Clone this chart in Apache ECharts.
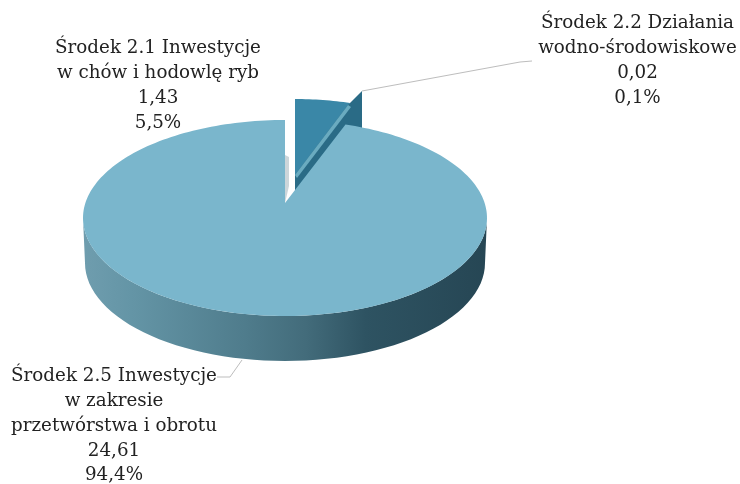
<!DOCTYPE html>
<html><head><meta charset="utf-8">
<script src="https://cdn.jsdelivr.net/npm/echarts@6/dist/echarts.min.js"></script>
<style>html,body{margin:0;padding:0;background:#fff}#c{width:740px;height:484px}</style>
</head><body><div id="c"></div>
<script>
const names = ['Środek 2.1 Inwestycje\nw chów i hodowlę ryb', 'Środek 2.2 Działania\nwodno-środowiskowe', 'Środek 2.5 Inwestycje\nw zakresie\nprzetwórstwa i obrotu'];
const values = [1.43, 0.02, 24.61];
const percents = [5.5, 0.1, 94.4];

const total = values.reduce((a, b) => a + b, 0);
const fmt = (v, d) => v.toFixed(d).replace('.', ',');
const FONT = '18.3px "DejaVu Serif", serif';
const LABELS = [{x:158,y:36},{x:637.5,y:11},{x:114,y:364}];
const MAIN = {cx:285, cy:218, rx:202, ry:98, apexX:285, apexY:203, depth:45, perspective:.87};

function startAngle(i){ let s=0; for(let k=0;k<i;k++) s+=values[k]; return s/total*Math.PI*2; }
function arc(c, a0, a1, n){
  const pts=[];
  for(let i=0;i<=n;i++){ const a=a0+(a1-a0)*i/n; pts.push([c.cx+c.rx*Math.sin(a), c.cy-c.ry*Math.cos(a)]); }
  return pts;
}
function poly(points, fill){ return {type:'polygon', shape:{points}, style:{fill}}; }
function label(i){
  const text = names[i]+'\n'+fmt(values[i],2)+'\n'+fmt(percents[i],1)+'%';
  return {type:'text', z2:50, style:{text, x:LABELS[i].x, y:LABELS[i].y, align:'center', verticalAlign:'top', font:FONT, lineHeight:24.8, fill:'#222'}};
}
function leader(points){ return {type:'polyline', z2:40, shape:{points}, style:{fill:null, stroke:'#bdbdbd', lineWidth:1}}; }

function renderItem(params, api){
  const i = params.dataIndex;
  const a0 = startAngle(i), a1 = a0 + api.value(1)/total*Math.PI*2;
  const kids = [];
  if(i===0){
    const c={cx:295, cy:167, rx:163, ry:68};
    kids.push(poly([[295,185]].concat(arc(c,a0,a1,16)), '#3a87a7'));
  } else if(i===1){
    kids.push(poly([[295,175],[348,105],[362,91],[362,132],[300,205],[295,190]], '#2a6b86'));
    kids.push(poly([[295,175],[348,105],[351,107],[297,178]], '#6aabc0'));
    kids.push(leader([[362,91],[520,62],[532,61]]));
  } else {
    const wall=[].concat(
      arc({cx:MAIN.cx,cy:MAIN.cy+MAIN.depth,rx:MAIN.rx-2,ry:MAIN.ry}, Math.PI/2, Math.PI*1.5, 60),
      arc(MAIN, Math.PI*1.5, Math.PI/2, 60));
    kids.push(poly(wall, new echarts.graphic.LinearGradient(0,0,1,0,[
      {offset:0,color:'#6f9dae'},{offset:.12,color:'#6495a6'},{offset:.4,color:'#4f7c8c'},
      {offset:.55,color:'#436c7b'},{offset:.7,color:'#2e5362'},{offset:1,color:'#264654'}])));
    kids.push(poly([[285,155],[289,157],[289,186],[285,203]], '#ccd6da'));
    kids.push(poly([[MAIN.apexX,MAIN.apexY]].concat(arc(MAIN,a0*MAIN.perspective,a1,240)), '#7ab6cc'));
    kids.push(leader([[217,377],[230,377],[242,360]]));
  }
  kids.push(label(i));
  return {type:'group', children:kids};
}

const chart = echarts.init(document.getElementById('c'), null, {renderer:'canvas'});
chart.setOption({
  animation:false,
  backgroundColor:'#fff',
  series:[{type:'custom', coordinateSystem:'none', silent:true, renderItem,
    data: values.map((v,i)=>[i,v])}]
});
</script></body></html>
